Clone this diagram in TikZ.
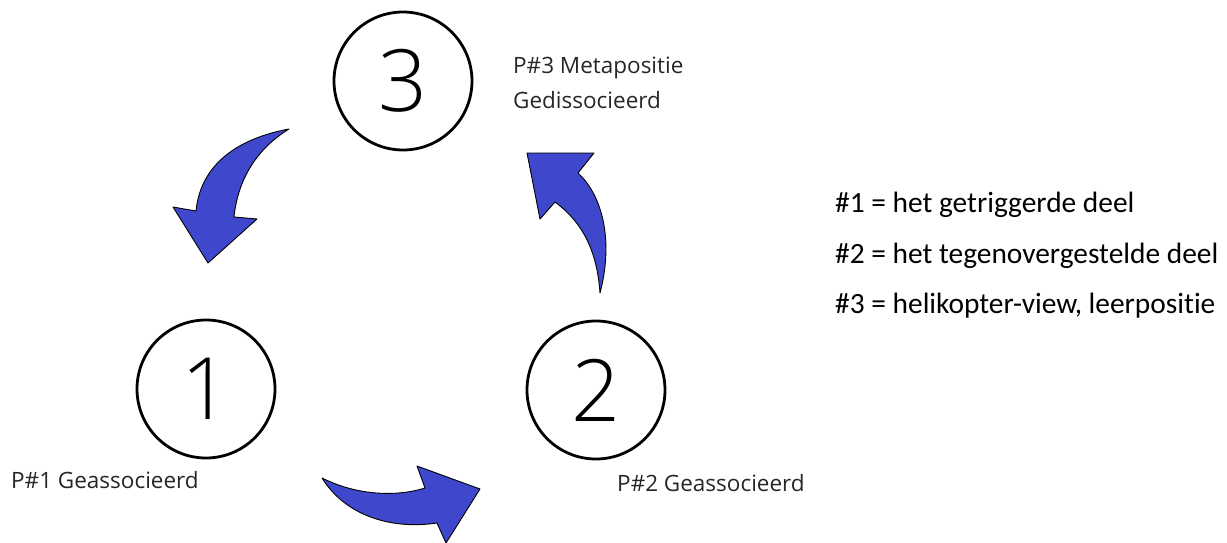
\documentclass[tikz,border=0pt]{standalone}
\usepackage{fontspec}
\setmainfont{Open Sans}
\newfontfamily\numfont{Open Sans Light}
\newfontfamily\calfont{Carlito}[Ligatures=NoCommon]
\definecolor{arrowblue}{RGB}{63,72,204}
\begin{document}
\begin{tikzpicture}[x=1pt,y=-1pt,
  ring/.style={circle,draw=black,line width=2.8pt,minimum size=138pt,inner sep=0pt,font=\numfont\fontsize{86}{86}\selectfont},
  lbl/.style={anchor=base west,inner sep=0pt,font=\fontsize{22.5}{22.5}\selectfont,text=black!85},
  legend/.style={anchor=base west,inner sep=0pt,font=\calfont\fontsize{29.4}{29.4}\selectfont},
  blockarrow/.style={fill=arrowblue,draw=black,line width=0.9pt,line join=round}]
\useasboundingbox (0,0) rectangle (1227,543);
\node[ring] (c3) at (403,81) {3};
\node[ring] (c1) at (206,389) {1};
\node[ring] (c2) at (596,390) {2};
\node[lbl] (l3a) at (513,74) {P\#3 Metapositie};
\node[lbl] (l3b) at (513,108) {Gedissocieerd};
\node[lbl] (l1) at (11,488) {P\#1 Geassocieerd};
\node[lbl] (l2) at (617,491) {P\#2 Geassocieerd};
\node[legend] (k1) at (835,212) {\#1 = het getriggerde deel};
\node[legend] (k2) at (835,263) {\#2 = het tegenovergestelde deel};
\node[legend] (k3) at (835,313) {\#3 = helikopter-view, leerpositie};
% arrow 3 -> 1
\draw[blockarrow] (289,129) .. controls (230,140) and (200,170) .. (196,211)
  -- (173,207) -- (208,263) -- (257,219) -- (234,217)
  .. controls (238,178) and (258,148) .. cycle;
% arrow 2 -> 3
\draw[blockarrow] (527,153) -- (594,153) -- (578,173)
  .. controls (602,195) and (614,240) .. (600,293)
  .. controls (597,250) and (582,222) .. (555,202)
  -- (540,219) -- cycle;
% arrow 1 -> 2
\draw[blockarrow] (322,478) .. controls (360,497) and (400,496) .. (425,488)
  -- (417,466) -- (480,489) -- (446,543) -- (437,523)
  .. controls (390,530) and (345,515) .. cycle;
\end{tikzpicture}
\end{document}
